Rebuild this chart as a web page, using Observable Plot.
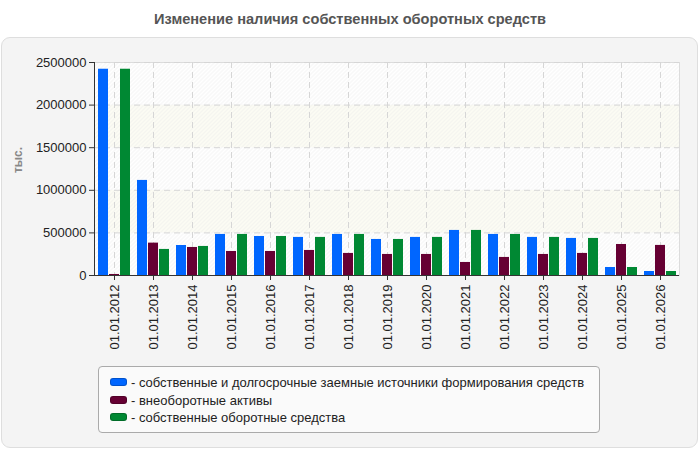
<!DOCTYPE html>
<html>
<head>
<meta charset="utf-8">
<script src="https://cdn.jsdelivr.net/npm/d3@7"></script>
<script src="https://cdn.jsdelivr.net/npm/@observablehq/plot@0.6"></script>
<style>
  html, body { margin: 0; padding: 0; background: #ffffff; }
  body { font-family: "Liberation Sans", Arial, sans-serif; }
  #wrap { position: relative; width: 700px; height: 450px; overflow: hidden; }
  #panel { position: absolute; left: 1px; top: 37px; width: 695px; height: 409px;
           border: 1px solid #dedede; border-radius: 9px; background: #f4f4f4; }
  #title { position: absolute; left: 0; top: 11px; width: 700px; text-align: center;
           font-weight: bold; font-size: 14.6px; color: #555; }
  #chart { position: absolute; left: 0; top: 0; }
  #ylabel { position: absolute; top: 160px; transform: translate(-50%, -50%) rotate(-90deg);
            transform-origin: center; font-size: 12px; font-weight: bold; color: #888; left: 18px; }
  #legend { position: absolute; left: 98px; top: 366px; width: 500px; height: 65px;
            border: 1px solid #aaa; border-radius: 4px; background: #fafafa; }
  .item { position: absolute; left: 11px; font-size: 13px; color: #222; white-space: nowrap; line-height: 15px; }
  .sw { display: inline-block; width: 17px; height: 8px; border-radius: 3px; margin-right: 4px;
        vertical-align: 1px; box-sizing: border-box; border: 1px solid rgba(0,0,0,0.2); }
</style>
</head>
<body>
<div id="wrap">
  <div id="panel"></div>
  <div id="title"></div>
  <div id="chart"></div>
  <div id="ylabel"></div>
  <div id="legend"></div>
</div>
<script>
const titleText = "Изменение наличия собственных оборотных средств";
const yLabel = "тыс.";
const dates = ["01.01.2012","01.01.2013","01.01.2014","01.01.2015","01.01.2016","01.01.2017","01.01.2018","01.01.2019","01.01.2020","01.01.2021","01.01.2022","01.01.2023","01.01.2024","01.01.2025","01.01.2026"];
const seriesNames = [
  "собственные и долгосрочные заемные источники формирования средств",
  "внеоборотные активы",
  "собственные оборотные средства"
];
const seriesColors = ["#0066ff", "#660033", "#008833"];
const sources = [2421000, 1116000, 352000, 482000, 458000, 447000, 482000, 423000, 447000, 529000, 482000, 447000, 435000, 94000, 47000];
const nonCurrent = [12000, 380000, 329000, 282000, 282000, 294000, 259000, 247000, 247000, 153000, 212000, 247000, 259000, 364000, 353000];
const working = [2421000, 306000, 341000, 482000, 458000, 447000, 482000, 423000, 447000, 529000, 482000, 447000, 435000, 94000, 47000];
const yTicks = [0, 500000, 1000000, 1500000, 2000000, 2500000];

document.getElementById("title").textContent = titleText;
document.getElementById("ylabel").textContent = yLabel;

const seriesValues = [sources, nonCurrent, working];
const rows = seriesValues.map(vals => dates.map((d, i) => ({date: d, value: vals[i]})));
const bands = yTicks.slice(0, -1).map((t, i) => ({y1: t, y2: yTicks[i + 1], fill: i % 2 ? "#fcfcf4" : "#ffffff"}));
const offsets = [-11, 0, 11];

const plot = Plot.plot({
  width: 700,
  height: 450,
  marginLeft: 94,
  marginRight: 21,
  marginTop: 62,
  marginBottom: 175,
  style: {background: "transparent", fontFamily: "Liberation Sans, Arial, sans-serif", fontSize: "13px", color: "#222"},
  x: {type: "band", domain: dates, paddingInner: 0.744, paddingOuter: 0.372, label: null},
  y: {domain: [0, 2500000], label: null},
  marks: [
    Plot.rectY(bands, {y1: "y1", y2: "y2", fill: "fill"}),
    Plot.frame({fill: "url(#hatch)", stroke: "#dcdcdc"}),
    Plot.ruleY(yTicks.slice(1), {stroke: "#d6d6d6", strokeDasharray: "6,4"}),
    Plot.ruleX(dates, {x: d => d, stroke: "#d6d6d6", strokeDasharray: "6,4"}),
    ...rows.map((r, k) => Plot.barY(r, {x: "date", y: "value", fill: seriesColors[k], dx: offsets[k]})),
    Plot.axisY({ticks: yTicks, tickFormat: d3.format("d"), tickSize: 5, tickPadding: 3, fontSize: 13, stroke: "#333", label: null}),
    Plot.axisX({tickRotate: -90, tickSize: 5, tickPadding: 4, fontSize: 13, stroke: "#333", label: null}),
    Plot.ruleY([0], {stroke: "#333"}),
    Plot.frame({anchor: "left", stroke: "#333"})
  ]
});

const defs = document.createElementNS("http://www.w3.org/2000/svg", "defs");
defs.innerHTML = '<pattern id="hatch" patternUnits="userSpaceOnUse" width="4" height="4">' +
  '<path d="M-1,1 l2,-2 M0,4 l4,-4 M3,5 l2,-2" stroke="#e6e6e6" stroke-width="1" stroke-opacity="0.6"/></pattern>';
plot.insertBefore(defs, plot.firstChild);
document.getElementById("chart").appendChild(plot);

const legend = document.getElementById("legend");
seriesNames.forEach((name, k) => {
  const it = document.createElement("div");
  it.className = "item";
  it.style.top = (8 + k * 17.5) + "px";
  const sw = document.createElement("span");
  sw.className = "sw";
  sw.style.background = seriesColors[k];
  it.appendChild(sw);
  it.appendChild(document.createTextNode("- " + name));
  legend.appendChild(it);
});
</script>
</body>
</html>
